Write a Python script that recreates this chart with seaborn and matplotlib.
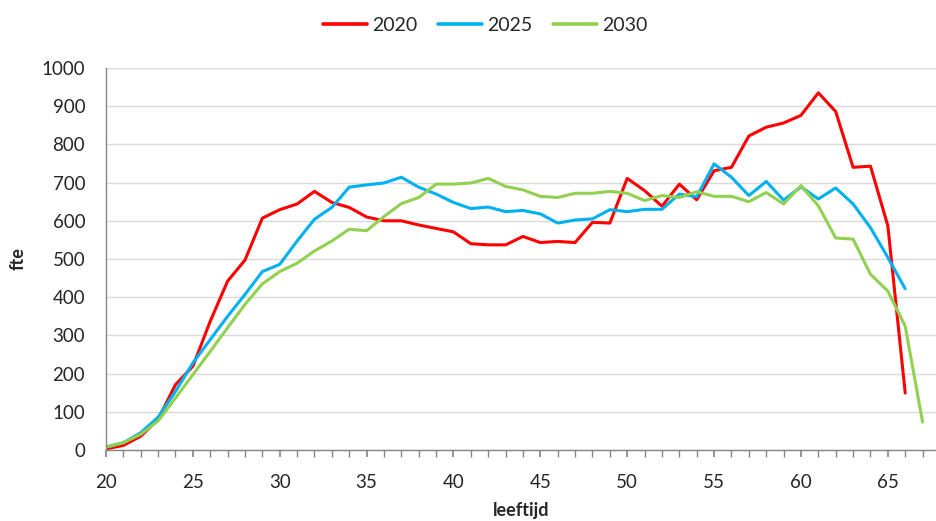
import numpy as np
import pandas as pd
import matplotlib
matplotlib.use("Agg")
import matplotlib.pyplot as plt
import seaborn as sns
from matplotlib.lines import Line2D

ages_2020 = list(range(20, 67))
fte_2020 = [3, 12, 36, 80, 171, 219, 337, 442, 497, 607, 629, 644, 677,
            648, 635, 610, 600, 600, 589, 580, 571, 540, 537, 537,
            559, 543, 546, 543, 596, 594, 711, 679, 638, 696, 655, 731,
            740, 822, 845, 856, 876, 935, 886, 740, 743, 587, 149]

ages_2025 = list(range(20, 67))
fte_2025 = [8, 19, 45, 86, 153, 228, 289, 350, 407, 467, 486, 547, 604,
            635, 688, 694, 699, 714, 688, 670, 648, 632, 636, 624,
            627, 618, 594, 602, 605, 629, 624, 630, 630, 670, 663, 749,
            714, 666, 703, 654, 689, 657, 686, 644, 582, 504, 422]

ages_2030 = list(range(20, 68))
fte_2030 = [7, 19, 41, 76, 136, 197, 258, 320, 381, 435, 467, 489, 521,
            547, 578, 574, 611, 645, 661, 696, 696, 699, 711, 690,
            681, 664, 661, 672, 672, 677, 672, 653, 666, 661, 676, 664,
            664, 650, 674, 644, 692, 639, 555, 552, 460, 416, 324, 73]

series_names = ["2020", "2025", "2030"]
colors = {"2020": "#FF0000", "2025": "#00B0F0", "2030": "#92D050"}

df = pd.concat([
    pd.DataFrame({"leeftijd": ages_2020, "fte": fte_2020, "jaar": "2020"}),
    pd.DataFrame({"leeftijd": ages_2025, "fte": fte_2025, "jaar": "2025"}),
    pd.DataFrame({"leeftijd": ages_2030, "fte": fte_2030, "jaar": "2030"}),
], ignore_index=True)

sns.set_theme(style="white")
plt.rcParams["font.family"] = ["Lato", "DejaVu Sans"]

fig = plt.figure(figsize=(9.37, 5.21), dpi=100)
ax = fig.add_axes([0.1131, 0.1363, 0.8858, 0.7332])

sns.lineplot(data=df, x="leeftijd", y="fte", hue="jaar", hue_order=series_names,
             palette=colors, linewidth=2.2, ax=ax, legend=False)

ax.set_xlim(20, 67.77)
ax.set_ylim(0, 1000)
ax.set_yticks(np.arange(0, 1001, 100))
ax.set_xticks(np.arange(20, 66, 5))
ax.set_xticks(np.arange(20, 68, 1), minor=True)
ax.yaxis.grid(True, color="#D9D9D9", linewidth=1)
ax.xaxis.grid(False)
ax.set_axisbelow(True)

for s in ["top", "right"]:
    ax.spines[s].set_visible(False)
ax.spines["left"].set_color("#868686")
ax.spines["bottom"].set_color("#868686")
ax.spines["left"].set_linewidth(1)
ax.spines["bottom"].set_linewidth(1)

ax.tick_params(axis="x", which="both", direction="out", length=5, color="#868686",
               bottom=True, labelsize=13.5, pad=12, labelcolor="#262626")
ax.tick_params(axis="x", which="minor", length=5)
ax.tick_params(axis="y", length=0, labelsize=13.5, pad=15, labelcolor="#262626")

ax.set_xlabel("leeftijd", fontsize=13, fontweight="bold", labelpad=8, color="#262626")
ax.set_ylabel("fte", fontsize=13, fontweight="bold", labelpad=11, color="#262626")

handles = [Line2D([0], [0], color=colors[n], linewidth=2.6) for n in series_names]
fig.legend(handles, series_names, loc="center", bbox_to_anchor=(0.518, 0.951),
           ncol=3, frameon=False, fontsize=14, handlelength=2.27,
           columnspacing=1.05, handletextpad=0.27)

fig.savefig("out.png", dpi=100)
